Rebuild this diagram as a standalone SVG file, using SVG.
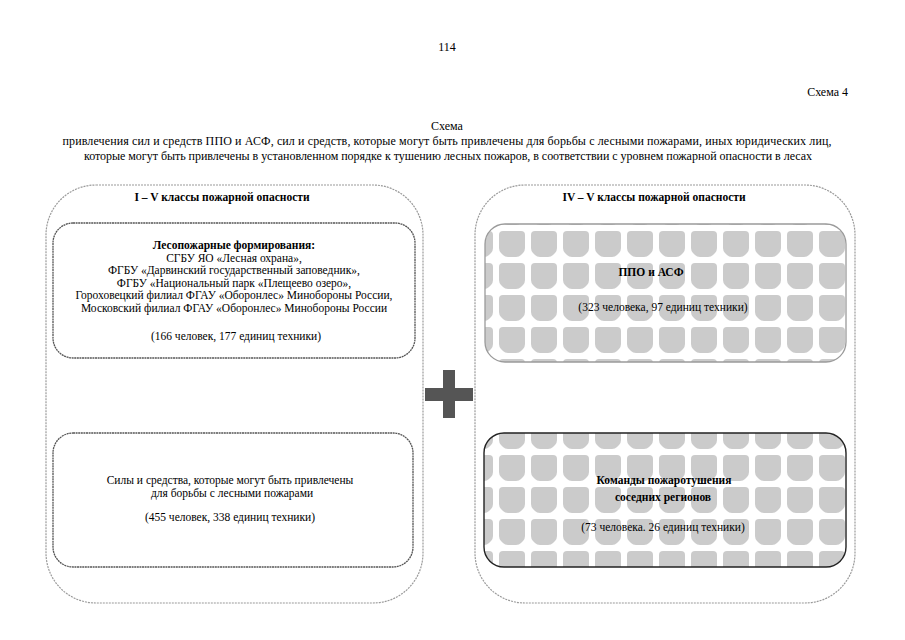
<svg xmlns="http://www.w3.org/2000/svg" width="905" height="640" viewBox="0 0 905 640">
<defs>
<style>
.t{font-family:"Liberation Serif","Times New Roman",serif;font-size:11.5px;fill:#000;text-anchor:middle}
.h{font-size:12px}
.b{font-weight:bold}
.outer{fill:none;stroke:#9a9a9a;stroke-width:1.2;stroke-dasharray:2 1}
.inner{fill:#fff;stroke:#555;stroke-width:1.3;stroke-dasharray:2 0.6}
.pat1{fill:url(#tiles);stroke:#9a9a9a;stroke-width:1.3}
.pat2{fill:url(#tiles);stroke:#222;stroke-width:1.4}
</style>
<pattern id="tiles" patternUnits="userSpaceOnUse" x="19" y="7" width="32" height="32">
<rect width="32" height="32" fill="#fff"/>
<path d="M4,0 H22 Q26,0 26,4 V17 Q26,20 24,22 L22,24 Q20,26 17,26 H9 Q6,26 4,24 L2,22 Q0,20 0,17 V4 Q0,0 4,0 Z" fill="#cbcbcb"/>
</pattern>
</defs>
<rect width="905" height="640" fill="#fff"/>
<g id="header">
<text class="t h" x="447" y="51">114</text>
<text class="t h" x="848" y="96" style="text-anchor:end">Схема 4</text>
<text class="t h" x="447" y="130">Схема</text>
<text class="t h" x="447" y="145" textLength="769" lengthAdjust="spacing">привлечения сил и средств ППО и АСФ, сил и средств, которые могут быть привлечены для борьбы с лесными пожарами, иных юридических лиц,</text>
<text class="t h" x="448" y="160" textLength="728" lengthAdjust="spacing">которые могут быть привлечены в установленном порядке к тушению лесных пожаров, в соответствии с уровнем пожарной опасности в лесах</text>
</g>
<g id="left-group">
<rect class="outer" x="46" y="185" width="377" height="418" rx="50"/>
<text class="t b" x="222" y="201">I – V классы пожарной опасности</text>
</g>
<g id="left-forest-units">
<rect class="inner" x="53" y="223" width="362" height="135" rx="20"/>
<text class="t b" x="234" y="249">Лесопожарные формирования:</text>
<text class="t" x="234" y="261.5">СГБУ ЯО «Лесная охрана»,</text>
<text class="t" x="234" y="274">ФГБУ «Дарвинский государственный заповедник»,</text>
<text class="t" x="234" y="286.5">ФГБУ «Национальный парк «Плещеево озеро»,</text>
<text class="t" x="234" y="299">Гороховецкий филиал ФГАУ «Оборонлес» Минобороны России,</text>
<text class="t" x="234" y="311.5">Московский филиал ФГАУ «Оборонлес» Минобороны России</text>
<text class="t" x="236" y="340">(166 человек, 177 единиц техники)</text>
</g>
<g id="left-forces">
<rect class="inner" x="53" y="433" width="360" height="134" rx="20"/>
<text class="t" x="230" y="484">Силы и средства, которые могут быть привлечены</text>
<text class="t" x="232" y="496.5">для борьбы с лесными пожарами</text>
<text class="t" x="230" y="521">(455 человек, 338 единиц техники)</text>
</g>
<g id="plus">
<rect x="443" y="370" width="12" height="48" fill="#555"/>
<rect x="425" y="388" width="48" height="13" fill="#555"/>
</g>
<g id="right-group">
<rect class="outer" x="475" y="185" width="380" height="418" rx="50"/>
<text class="t b" x="654" y="201">IV – V классы пожарной опасности</text>
</g>
<g id="right-ppo">
<rect class="pat1" x="485" y="224" width="361" height="138" rx="20"/>
<text class="t b" x="651" y="276">ППО и АСФ</text>
<text class="t" x="663" y="311">(323 человека, 97 единиц техники)</text>
</g>
<g id="right-neighbours">
<rect class="pat2" x="484" y="433" width="362" height="134" rx="20"/>
<text class="t b" x="664" y="484">Команды пожаротушения</text>
<text class="t b" x="663" y="501">соседних регионов</text>
<text class="t" x="663" y="531">(73 человека. 26 единиц техники)</text>
</g>
<g id="connectors"/>
</svg>
